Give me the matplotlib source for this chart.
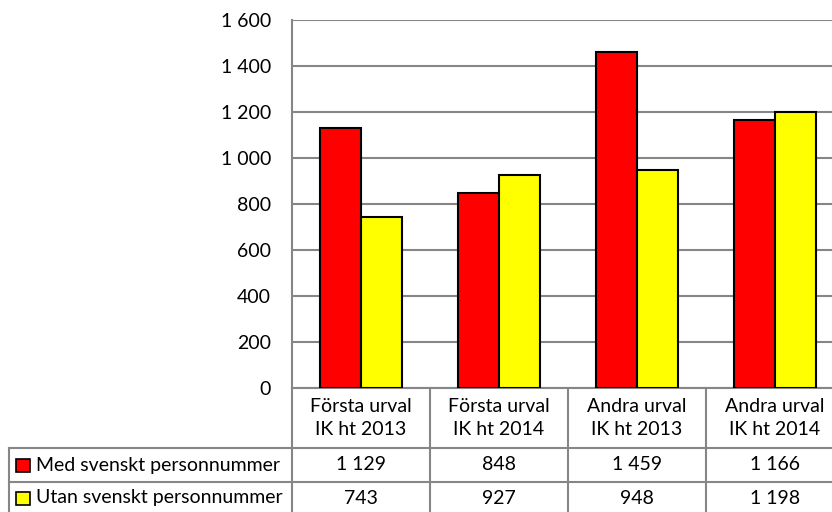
import matplotlib
matplotlib.use("Agg")
import matplotlib.pyplot as plt
from matplotlib.transforms import blended_transform_factory
from matplotlib.patches import Rectangle

categories = ["Första urval\nIK ht 2013", "Första urval\nIK ht 2014",
              "Andra urval\nIK ht 2013", "Andra urval\nIK ht 2014"]
series_names = ["Med svenskt personnummer", "Utan svenskt personnummer"]
med = [1129, 848, 1459, 1166]
utan = [743, 927, 948, 1198]
yticks = [0, 200, 400, 600, 800, 1000, 1200, 1400, 1600]
colors = ["#FF0000", "#FFFF00"]

plt.rcParams['font.family'] = ['Lato', 'DejaVu Sans']
FS = 14
GRID = "#868686"

W, H = 832, 512
fig = plt.figure(figsize=(W / 100, H / 100), dpi=100)
# plot area in pixels
L, R, T, B = 292, 844, 20, 388
ax = fig.add_axes([L / W, 1 - B / H, (R - L) / W, (B - T) / H])

x = list(range(len(categories)))
bw = 0.3
ax.bar([i - bw / 2 for i in x], med, width=bw, color=colors[0], edgecolor="black", linewidth=1.5, zorder=3)
ax.bar([i + bw / 2 for i in x], utan, width=bw, color=colors[1], edgecolor="black", linewidth=1.5, zorder=3)

ax.set_xlim(-0.5, len(categories) - 0.5)
ax.set_ylim(0, 1600)
ax.set_yticks(yticks)
ax.set_yticklabels([f"{v:,}".replace(",", " ") for v in yticks], fontsize=FS)
ax.tick_params(axis="y", length=0, pad=15)
ax.set_xticks([])
ax.yaxis.grid(True, color=GRID, linewidth=1.5, zorder=0)
for s in ["top", "right", "bottom"]:
    ax.spines[s].set_visible(False)
ax.spines["left"].set_color(GRID)
ax.spines["left"].set_linewidth(1.5)

# data table below the plot
tr = blended_transform_factory(ax.transData, ax.transAxes)
def ya(ypix):
    return (B - ypix) / (B - T)
def xd(xpix):
    return -0.5 + (xpix - L) / ((R - L) / len(categories))

y_head_bot, y_row1_bot, y_row2_bot = 448, 482, 516
x_leg = xd(9)
xr = len(categories) - 0.5
lkw = dict(color=GRID, linewidth=1.5, transform=tr, clip_on=False)
ax.plot([-0.5, xr], [0, 0], **lkw)
for yy in (y_head_bot, y_row1_bot, y_row2_bot):
    ax.plot([x_leg, xr], [ya(yy), ya(yy)], **lkw)
for i in range(len(categories) + 1):
    ax.plot([i - 0.5, i - 0.5], [0, ya(y_row2_bot)], **lkw)
ax.plot([x_leg, x_leg], [ya(y_head_bot), ya(y_row2_bot)], **lkw)

for i, c in enumerate(categories):
    ax.text(i, ya(418), c, transform=tr, ha="center", va="center", fontsize=FS,
            linespacing=1.45, clip_on=False)
    ax.text(i, ya(465), f"{med[i]:,}".replace(",", " "), transform=tr, ha="center",
            va="center", fontsize=FS, clip_on=False)
    ax.text(i, ya(498), f"{utan[i]:,}".replace(",", " "), transform=tr, ha="center",
            va="center", fontsize=FS, clip_on=False)

for name, col, yc in zip(series_names, colors, (465, 498)):
    ax.add_patch(Rectangle((xd(16), ya(yc + 6.5)), xd(30) - xd(16), ya(yc - 6.5) - ya(yc + 6.5),
                           transform=tr, facecolor=col, edgecolor="black", linewidth=1.2,
                           clip_on=False))
    ax.text(xd(36), ya(yc), name, transform=tr, ha="left", va="center", fontsize=FS,
            clip_on=False)

fig.savefig("out.png", dpi=100)
